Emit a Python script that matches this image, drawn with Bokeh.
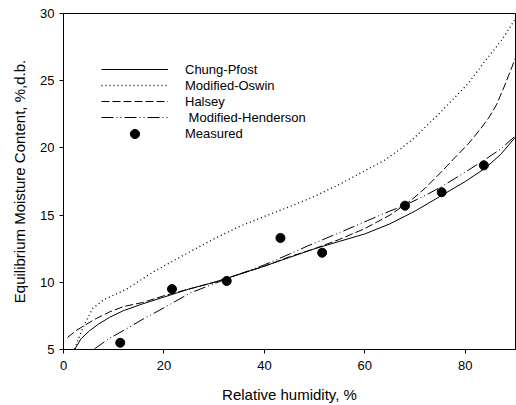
from bokeh.plotting import figure
from bokeh.models import Range1d, FixedTicker, Legend, LegendItem
from bokeh.embed import file_html
from bokeh.resources import INLINE

# Chung-Pfost model curve
cp_x = [2.2, 3.5, 5.2, 7, 9.2, 12, 15.8, 20, 25, 30, 35, 40, 45, 50, 55, 60, 65, 70, 75, 80, 84, 87, 90]
cp_y = [5.0, 5.8, 6.4, 6.9, 7.4, 7.9, 8.4, 8.9, 9.5, 10.0, 10.6, 11.2, 11.85, 12.5, 13.05, 13.6, 14.35, 15.3, 16.4, 17.5, 18.5, 19.5, 20.8]

# Modified-Oswin model curve
os_x = [2.2, 3.2, 4.2, 5.8, 8, 12.6, 18, 24.8, 29.8, 35, 40, 45.2, 50, 55, 60, 64, 67.2, 70, 75.2, 80.6, 83.8, 87.2, 89.8]
os_y = [5.05, 6.0, 6.9, 8.05, 8.7, 9.5, 10.8, 12.2, 13.2, 14.15, 14.9, 15.65, 16.4, 17.3, 18.3, 19.1, 19.95, 20.8, 22.7, 24.8, 26.4, 28.0, 29.5]

# Halsey model curve
ha_x = [0.8, 2.5, 4.2, 6.5, 9.2, 12, 15.8, 20, 25, 30, 35, 40, 45, 50, 55, 60, 65, 69.2, 72, 75.2, 78, 80.6, 83, 84.6, 86.2, 87.8, 90]
ha_y = [5.9, 6.4, 6.8, 7.3, 7.8, 8.2, 8.5, 9.0, 9.5, 10.0, 10.6, 11.2, 11.9, 12.5, 13.2, 14.0, 15.0, 16.1, 17.0, 18.2, 19.3, 20.3, 21.4, 22.2, 23.2, 24.6, 26.7]

# Modified-Henderson model curve
mh_x = [6.2, 9, 12.6, 16, 20, 25.2, 30, 35, 40, 45, 48.6, 55, 60.6, 65, 68, 71.2, 75.2, 80, 83.8, 87, 90]
mh_y = [5.05, 5.8, 6.55, 7.3, 8.1, 9.2, 9.9, 10.6, 11.3, 12.1, 12.7, 13.7, 14.6, 15.3, 15.75, 16.3, 17.1, 18.2, 19.1, 19.9, 20.9]

# Measured points
meas_x = [11.3, 21.6, 32.5, 43.2, 51.5, 68.0, 75.3, 83.7]
meas_y = [5.5, 9.5, 10.1, 13.3, 12.2, 15.7, 16.7, 18.7]

x_ticks = [0, 20, 40, 60, 80]
y_ticks = [5, 10, 15, 20, 25, 30]

FONT = "Liberation Sans"

p = figure(width=516, height=405, output_backend="svg", toolbar_location=None,
           x_range=Range1d(0, 90), y_range=Range1d(5, 30),
           min_border_left=63, min_border_right=1, min_border_top=13, min_border_bottom=56)
p.xgrid.visible = False
p.ygrid.visible = False
p.outline_line_color = "black"
p.outline_line_width = 1
p.background_fill_color = "white"
p.border_fill_color = "white"

for ax, ticks in ((p.xaxis[0], x_ticks), (p.yaxis[0], y_ticks)):
    ax.ticker = FixedTicker(ticks=ticks)
    ax.minor_tick_line_color = None
    ax.major_tick_in = 0
    ax.major_tick_out = 4
    ax.axis_line_color = "black"
    ax.major_tick_line_color = "black"
    ax.major_label_text_font = FONT
    ax.major_label_text_font_size = "13px"
    ax.major_label_text_color = "black"
    ax.axis_label_text_font = FONT
    ax.axis_label_text_font_size = "15px"
    ax.axis_label_text_font_style = "normal"
    ax.axis_label_text_color = "black"

p.xaxis.axis_label = "Relative humidity, %"
p.yaxis.axis_label = "Equilibrium Moisture Content, %,d.b."
p.xaxis.major_label_standoff = 7
p.xaxis.axis_label_standoff = 13
p.yaxis.major_label_standoff = 5
p.yaxis.axis_label_standoff = 9

r_cp = p.line(cp_x, cp_y, line_color="black", line_width=1)
r_os = p.line(os_x, os_y, line_color="black", line_width=1.3, line_dash="1 3")
r_ha = p.line(ha_x, ha_y, line_color="black", line_width=1, line_dash="8 3")
r_mh = p.line(mh_x, mh_y, line_color="black", line_width=1, line_dash="12 3 1 3 1 3")
r_me = p.scatter(meas_x, meas_y, size=9, marker="circle", fill_color="black", line_color="black")


def style(lg, gh):
    lg.glyph_width = 67
    lg.glyph_height = gh
    lg.label_height = gh
    lg.spacing = 0
    lg.padding = 0
    lg.margin = 0
    lg.label_standoff = 17
    lg.label_text_font = FONT
    lg.label_text_font_size = "13px"
    lg.label_text_color = "black"
    lg.border_line_alpha = 0
    lg.background_fill_alpha = 0


legend = Legend(items=[
    LegendItem(label="Chung-Pfost", renderers=[r_cp]),
    LegendItem(label="Modified-Oswin", renderers=[r_os]),
    LegendItem(label="Halsey", renderers=[r_ha]),
    LegendItem(label=" Modified-Henderson", renderers=[r_mh]),
], location=(38, 224))
style(legend, 16)
p.add_layout(legend)

legend2 = Legend(items=[
    LegendItem(label="Measured", renderers=[r_me]),
], location=(38, 204.5))
style(legend2, 23)
p.add_layout(legend2)

open("out.html", "w").write(file_html(p, INLINE))
